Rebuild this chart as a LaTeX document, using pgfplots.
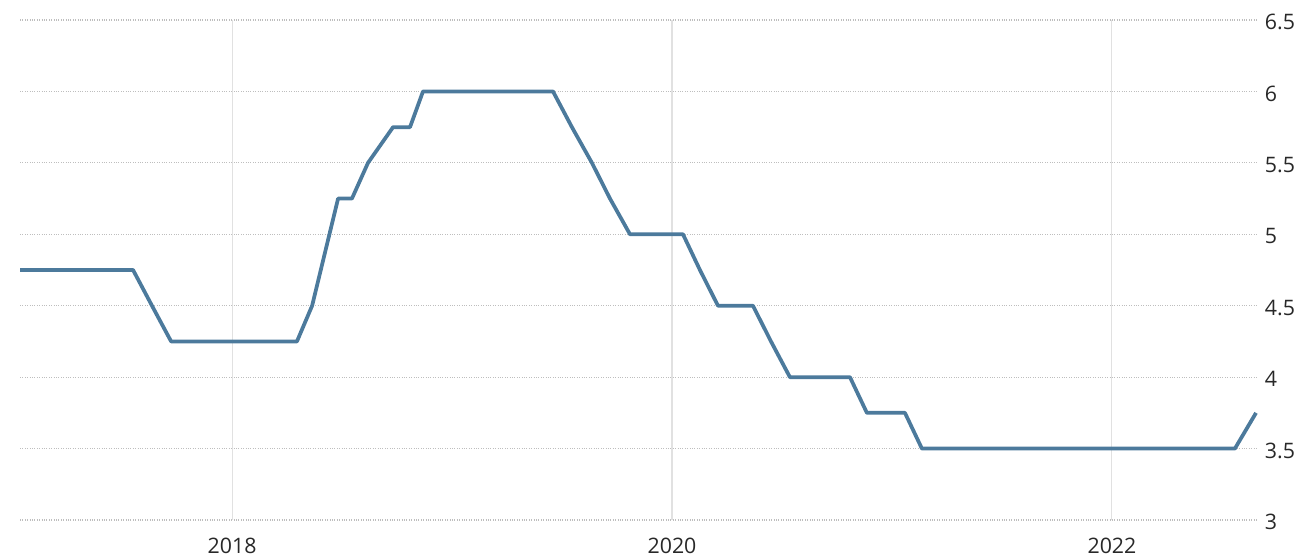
\documentclass[border=0pt]{standalone}
\usepackage{fontspec}
\setmainfont{Open Sans}
\usepackage{pgfplots}
\pgfplotsset{compat=1.18}
\definecolor{lineblue}{RGB}{76,122,156}
\definecolor{vgrid}{RGB}{225,225,225}
\definecolor{hgrid}{RGB}{190,190,190}
\definecolor{labgray}{RGB}{40,40,40}
\begin{document}
\begin{tikzpicture}
\begin{axis}[
  name=ax,
  scale only axis,
  width=928.5pt, height=375pt,
  xmin=2017.036, xmax=2022.664,
  ymin=3, ymax=6.5,
  axis line style={draw=none},
  major tick length=0pt,
  xtick={2018,2020,2022},
  xticklabels={2018,2020,2022},
  ytick={3,3.5,4,4.5,5,5.5,6,6.5},
  yticklabels={3,3.5,4,4.5,5,5.5,6,6.5},
  yticklabel pos=right,
  xmajorgrids, ymajorgrids,
  x grid style={vgrid, line width=0.8pt},
  y grid style={hgrid, line width=0.8pt, densely dotted},
  xticklabel style={font=\fontsize{16}{19}\selectfont, text=labgray, anchor=north, inner sep=0pt, yshift=-13pt},
  yticklabel style={font=\fontsize{16}{19}\selectfont, text=labgray, anchor=west, inner sep=0pt, xshift=5pt, yshift=-1.5pt},
  /pgf/number format/assume math mode=true,
  clip=false,
]
\addplot[color=lineblue, line width=2.8pt, line join=round] coordinates {
(2017.036,4.75)
(2017.550,4.75)
(2017.636,4.5)
(2017.723,4.25)
(2018.295,4.25)
(2018.364,4.5)
(2018.482,5.25)
(2018.545,5.25)
(2018.618,5.5)
(2018.732,5.75)
(2018.809,5.75)
(2018.868,6.0)
(2019.459,6.0)
(2019.545,5.75)
(2019.636,5.5)
(2019.718,5.25)
(2019.809,5.0)
(2020.050,5.0)
(2020.127,4.75)
(2020.209,4.5)
(2020.368,4.5)
(2020.450,4.25)
(2020.536,4.0)
(2020.809,4.0)
(2020.886,3.75)
(2021.059,3.75)
(2021.136,3.5)
(2022.559,3.5)
(2022.655,3.75)
};
\end{axis}
\pgfresetboundingbox
\path[use as bounding box] ([xshift=-15pt,yshift=-28.5pt]ax.south west) rectangle ([xshift=38.25pt,yshift=15pt]ax.north east);
\end{tikzpicture}
\end{document}
